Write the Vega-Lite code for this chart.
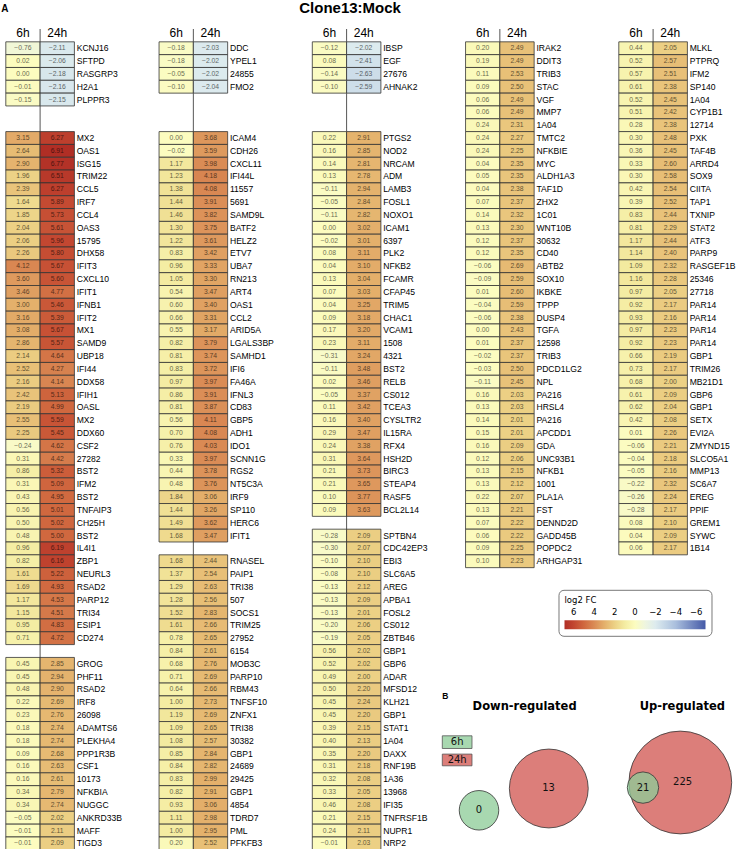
{
  "$schema": "https://vega.github.io/schema/vega-lite/v6.json",
  "padding": {"left": 0.8, "top": 0, "right": 0, "bottom": 0},
  "background": "white",
  "config": {"view": {"stroke": null}},
  "datasets": {
    "genes": [
      {"c":1,"r":0,"g":"KCNJ16","6h":-0.76,"24h":-2.11},
      {"c":1,"r":1,"g":"SFTPD","6h":0.02,"24h":-2.06},
      {"c":1,"r":2,"g":"RASGRP3","6h":-0.001,"24h":-2.18},
      {"c":1,"r":3,"g":"H2A1","6h":-0.01,"24h":-2.16},
      {"c":1,"r":4,"g":"PLPPR3","6h":-0.15,"24h":-2.15},
      {"c":1,"r":7,"g":"MX2","6h":3.15,"24h":6.27},
      {"c":1,"r":8,"g":"OAS1","6h":2.64,"24h":6.91},
      {"c":1,"r":9,"g":"ISG15","6h":2.90,"24h":6.77},
      {"c":1,"r":10,"g":"TRIM22","6h":1.96,"24h":6.51},
      {"c":1,"r":11,"g":"CCL5","6h":2.39,"24h":6.27},
      {"c":1,"r":12,"g":"IRF7","6h":1.64,"24h":5.89},
      {"c":1,"r":13,"g":"CCL4","6h":1.85,"24h":5.73},
      {"c":1,"r":14,"g":"OAS3","6h":2.04,"24h":5.61},
      {"c":1,"r":15,"g":"15795","6h":2.06,"24h":5.96},
      {"c":1,"r":16,"g":"DHX58","6h":2.26,"24h":5.80},
      {"c":1,"r":17,"g":"IFIT3","6h":4.12,"24h":5.67},
      {"c":1,"r":18,"g":"CXCL10","6h":3.60,"24h":5.60},
      {"c":1,"r":19,"g":"IFIT1","6h":3.46,"24h":4.77},
      {"c":1,"r":20,"g":"IFNB1","6h":3.00,"24h":5.46},
      {"c":1,"r":21,"g":"IFIT2","6h":3.16,"24h":5.39},
      {"c":1,"r":22,"g":"MX1","6h":3.08,"24h":5.67},
      {"c":1,"r":23,"g":"SAMD9","6h":2.86,"24h":5.57},
      {"c":1,"r":24,"g":"UBP18","6h":2.14,"24h":4.64},
      {"c":1,"r":25,"g":"IFI44","6h":2.52,"24h":4.27},
      {"c":1,"r":26,"g":"DDX58","6h":2.16,"24h":4.14},
      {"c":1,"r":27,"g":"IFIH1","6h":2.42,"24h":5.13},
      {"c":1,"r":28,"g":"OASL","6h":2.19,"24h":4.99},
      {"c":1,"r":29,"g":"MX2","6h":2.55,"24h":5.59},
      {"c":1,"r":30,"g":"DDX60","6h":2.25,"24h":5.45},
      {"c":1,"r":31,"g":"CSF2","6h":-0.24,"24h":4.62},
      {"c":1,"r":32,"g":"27282","6h":0.31,"24h":4.42},
      {"c":1,"r":33,"g":"BST2","6h":0.86,"24h":5.32},
      {"c":1,"r":34,"g":"IFM2","6h":0.31,"24h":5.09},
      {"c":1,"r":35,"g":"BST2","6h":0.43,"24h":4.95},
      {"c":1,"r":36,"g":"TNFAIP3","6h":0.56,"24h":5.01},
      {"c":1,"r":37,"g":"CH25H","6h":0.50,"24h":5.02},
      {"c":1,"r":38,"g":"BST2","6h":0.48,"24h":5.00},
      {"c":1,"r":39,"g":"IL4I1","6h":0.96,"24h":6.19},
      {"c":1,"r":40,"g":"ZBP1","6h":0.82,"24h":6.16},
      {"c":1,"r":41,"g":"NEURL3","6h":1.61,"24h":5.22},
      {"c":1,"r":42,"g":"RSAD2","6h":1.69,"24h":4.93},
      {"c":1,"r":43,"g":"PARP12","6h":1.17,"24h":4.53},
      {"c":1,"r":44,"g":"TRI34","6h":1.15,"24h":4.51},
      {"c":1,"r":45,"g":"ESIP1","6h":0.95,"24h":4.83},
      {"c":1,"r":46,"g":"CD274","6h":0.71,"24h":4.72},
      {"c":1,"r":48,"g":"GROG","6h":0.45,"24h":2.85},
      {"c":1,"r":49,"g":"PHF11","6h":0.45,"24h":2.94},
      {"c":1,"r":50,"g":"RSAD2","6h":0.48,"24h":2.90},
      {"c":1,"r":51,"g":"IRF8","6h":0.22,"24h":2.69},
      {"c":1,"r":52,"g":"26098","6h":0.23,"24h":2.76},
      {"c":1,"r":53,"g":"ADAMTS6","6h":0.18,"24h":2.74},
      {"c":1,"r":54,"g":"PLEKHA4","6h":0.18,"24h":2.74},
      {"c":1,"r":55,"g":"PPP1R3B","6h":0.09,"24h":2.68},
      {"c":1,"r":56,"g":"CSF1","6h":0.16,"24h":2.63},
      {"c":1,"r":57,"g":"10173","6h":0.16,"24h":2.61},
      {"c":1,"r":58,"g":"NFKBIA","6h":0.34,"24h":2.79},
      {"c":1,"r":59,"g":"NUGGC","6h":0.34,"24h":2.74},
      {"c":1,"r":60,"g":"ANKRD33B","6h":-0.05,"24h":2.02},
      {"c":1,"r":61,"g":"MAFF","6h":-0.01,"24h":2.11},
      {"c":1,"r":62,"g":"TIGD3","6h":-0.01,"24h":2.09},
      {"c":2,"r":0,"g":"DDC","6h":-0.18,"24h":-2.03},
      {"c":2,"r":1,"g":"YPEL1","6h":-0.18,"24h":-2.02},
      {"c":2,"r":2,"g":"24855","6h":-0.05,"24h":-2.02},
      {"c":2,"r":3,"g":"FMO2","6h":-0.10,"24h":-2.04},
      {"c":2,"r":7,"g":"ICAM4","6h":0.00,"24h":3.68},
      {"c":2,"r":8,"g":"CDH26","6h":-0.02,"24h":3.59},
      {"c":2,"r":9,"g":"CXCL11","6h":1.17,"24h":3.98},
      {"c":2,"r":10,"g":"IFI44L","6h":1.23,"24h":4.18},
      {"c":2,"r":11,"g":"11557","6h":1.38,"24h":4.08},
      {"c":2,"r":12,"g":"5691","6h":1.44,"24h":3.91},
      {"c":2,"r":13,"g":"SAMD9L","6h":1.46,"24h":3.82},
      {"c":2,"r":14,"g":"BATF2","6h":1.30,"24h":3.75},
      {"c":2,"r":15,"g":"HELZ2","6h":1.22,"24h":3.61},
      {"c":2,"r":16,"g":"ETV7","6h":0.83,"24h":3.42},
      {"c":2,"r":17,"g":"UBA7","6h":0.96,"24h":3.33},
      {"c":2,"r":18,"g":"RN213","6h":1.05,"24h":3.30},
      {"c":2,"r":19,"g":"ART4","6h":0.54,"24h":3.47},
      {"c":2,"r":20,"g":"OAS1","6h":0.60,"24h":3.40},
      {"c":2,"r":21,"g":"CCL2","6h":0.66,"24h":3.31},
      {"c":2,"r":22,"g":"ARID5A","6h":0.55,"24h":3.17},
      {"c":2,"r":23,"g":"LGALS3BP","6h":0.82,"24h":3.79},
      {"c":2,"r":24,"g":"SAMHD1","6h":0.81,"24h":3.74},
      {"c":2,"r":25,"g":"IFI6","6h":0.83,"24h":3.72},
      {"c":2,"r":26,"g":"FA46A","6h":0.97,"24h":3.97},
      {"c":2,"r":27,"g":"IFNL3","6h":0.86,"24h":3.91},
      {"c":2,"r":28,"g":"CD83","6h":0.81,"24h":3.87},
      {"c":2,"r":29,"g":"GBP5","6h":0.56,"24h":4.11},
      {"c":2,"r":30,"g":"ADH1","6h":0.70,"24h":4.08},
      {"c":2,"r":31,"g":"IDO1","6h":0.76,"24h":4.03},
      {"c":2,"r":32,"g":"SCNN1G","6h":0.33,"24h":3.97},
      {"c":2,"r":33,"g":"RGS2","6h":0.44,"24h":3.78},
      {"c":2,"r":34,"g":"NT5C3A","6h":0.48,"24h":3.76},
      {"c":2,"r":35,"g":"IRF9","6h":1.84,"24h":3.06},
      {"c":2,"r":36,"g":"SP110","6h":1.44,"24h":3.26},
      {"c":2,"r":37,"g":"HERC6","6h":1.49,"24h":3.62},
      {"c":2,"r":38,"g":"IFIT1","6h":1.68,"24h":3.47},
      {"c":2,"r":40,"g":"RNASEL","6h":1.68,"24h":2.44},
      {"c":2,"r":41,"g":"PAIP1","6h":1.37,"24h":2.54},
      {"c":2,"r":42,"g":"TRI38","6h":1.29,"24h":2.63},
      {"c":2,"r":43,"g":"507","6h":1.28,"24h":2.56},
      {"c":2,"r":44,"g":"SOCS1","6h":1.52,"24h":2.83},
      {"c":2,"r":45,"g":"TRIM25","6h":1.61,"24h":2.66},
      {"c":2,"r":46,"g":"27952","6h":0.78,"24h":2.65},
      {"c":2,"r":47,"g":"6154","6h":0.84,"24h":2.61},
      {"c":2,"r":48,"g":"MOB3C","6h":0.68,"24h":2.76},
      {"c":2,"r":49,"g":"PARP10","6h":0.71,"24h":2.69},
      {"c":2,"r":50,"g":"RBM43","6h":0.64,"24h":2.66},
      {"c":2,"r":51,"g":"TNFSF10","6h":1.00,"24h":2.73},
      {"c":2,"r":52,"g":"ZNFX1","6h":1.19,"24h":2.69},
      {"c":2,"r":53,"g":"TRI38","6h":1.09,"24h":2.65},
      {"c":2,"r":54,"g":"30382","6h":1.08,"24h":2.57},
      {"c":2,"r":55,"g":"GBP1","6h":0.85,"24h":2.84},
      {"c":2,"r":56,"g":"24689","6h":0.84,"24h":2.82},
      {"c":2,"r":57,"g":"29425","6h":0.83,"24h":2.99},
      {"c":2,"r":58,"g":"GBP1","6h":0.82,"24h":2.91},
      {"c":2,"r":59,"g":"4854","6h":0.93,"24h":3.06},
      {"c":2,"r":60,"g":"TDRD7","6h":1.11,"24h":2.98},
      {"c":2,"r":61,"g":"PML","6h":1.00,"24h":2.95},
      {"c":2,"r":62,"g":"PFKFB3","6h":0.20,"24h":2.52},
      {"c":3,"r":0,"g":"IBSP","6h":-0.12,"24h":-2.02},
      {"c":3,"r":1,"g":"EGF","6h":0.08,"24h":-2.41},
      {"c":3,"r":2,"g":"27676","6h":-0.14,"24h":-2.63},
      {"c":3,"r":3,"g":"AHNAK2","6h":-0.10,"24h":-2.59},
      {"c":3,"r":7,"g":"PTGS2","6h":0.22,"24h":2.91},
      {"c":3,"r":8,"g":"NOD2","6h":0.16,"24h":2.85},
      {"c":3,"r":9,"g":"NRCAM","6h":0.14,"24h":2.81},
      {"c":3,"r":10,"g":"ADM","6h":0.13,"24h":2.78},
      {"c":3,"r":11,"g":"LAMB3","6h":-0.11,"24h":2.94},
      {"c":3,"r":12,"g":"FOSL1","6h":-0.05,"24h":2.84},
      {"c":3,"r":13,"g":"NOXO1","6h":-0.11,"24h":2.82},
      {"c":3,"r":14,"g":"ICAM1","6h":-0.001,"24h":3.02},
      {"c":3,"r":15,"g":"6397","6h":-0.02,"24h":3.01},
      {"c":3,"r":16,"g":"PLK2","6h":0.08,"24h":3.11},
      {"c":3,"r":17,"g":"NFKB2","6h":0.04,"24h":3.10},
      {"c":3,"r":18,"g":"FCAMR","6h":0.13,"24h":3.04},
      {"c":3,"r":19,"g":"CFAP45","6h":0.07,"24h":3.03},
      {"c":3,"r":20,"g":"TRIM5","6h":0.04,"24h":3.25},
      {"c":3,"r":21,"g":"CHAC1","6h":0.09,"24h":3.18},
      {"c":3,"r":22,"g":"VCAM1","6h":0.17,"24h":3.20},
      {"c":3,"r":23,"g":"1508","6h":0.23,"24h":3.11},
      {"c":3,"r":24,"g":"4321","6h":-0.31,"24h":3.24},
      {"c":3,"r":25,"g":"BST2","6h":-0.11,"24h":3.48},
      {"c":3,"r":26,"g":"RELB","6h":0.02,"24h":3.46},
      {"c":3,"r":27,"g":"CS012","6h":-0.05,"24h":3.37},
      {"c":3,"r":28,"g":"TCEA3","6h":0.11,"24h":3.42},
      {"c":3,"r":29,"g":"CYSLTR2","6h":0.16,"24h":3.40},
      {"c":3,"r":30,"g":"IL15RA","6h":0.29,"24h":3.47},
      {"c":3,"r":31,"g":"RFX4","6h":0.24,"24h":3.38},
      {"c":3,"r":32,"g":"HSH2D","6h":0.31,"24h":3.64},
      {"c":3,"r":33,"g":"BIRC3","6h":0.21,"24h":3.73},
      {"c":3,"r":34,"g":"STEAP4","6h":0.21,"24h":3.65},
      {"c":3,"r":35,"g":"RASF5","6h":0.10,"24h":3.77},
      {"c":3,"r":36,"g":"BCL2L14","6h":0.09,"24h":3.63},
      {"c":3,"r":38,"g":"SPTBN4","6h":-0.28,"24h":2.09},
      {"c":3,"r":39,"g":"CDC42EP3","6h":-0.30,"24h":2.07},
      {"c":3,"r":40,"g":"EBI3","6h":-0.10,"24h":2.10},
      {"c":3,"r":41,"g":"SLC6A5","6h":-0.08,"24h":2.10},
      {"c":3,"r":42,"g":"AREG","6h":-0.13,"24h":2.12},
      {"c":3,"r":43,"g":"APBA1","6h":-0.13,"24h":2.09},
      {"c":3,"r":44,"g":"FOSL2","6h":-0.13,"24h":2.01},
      {"c":3,"r":45,"g":"CS012","6h":-0.20,"24h":2.06},
      {"c":3,"r":46,"g":"ZBTB46","6h":-0.19,"24h":2.05},
      {"c":3,"r":47,"g":"GBP1","6h":0.56,"24h":2.02},
      {"c":3,"r":48,"g":"GBP6","6h":0.52,"24h":2.02},
      {"c":3,"r":49,"g":"ADAR","6h":0.49,"24h":2.00},
      {"c":3,"r":50,"g":"MFSD12","6h":0.50,"24h":2.20},
      {"c":3,"r":51,"g":"KLH21","6h":0.45,"24h":2.24},
      {"c":3,"r":52,"g":"GBP1","6h":0.45,"24h":2.20},
      {"c":3,"r":53,"g":"STAT1","6h":0.39,"24h":2.15},
      {"c":3,"r":54,"g":"1A04","6h":0.40,"24h":2.13},
      {"c":3,"r":55,"g":"DAXX","6h":0.35,"24h":2.20},
      {"c":3,"r":56,"g":"RNF19B","6h":0.31,"24h":2.18},
      {"c":3,"r":57,"g":"1A36","6h":0.32,"24h":2.08},
      {"c":3,"r":58,"g":"13968","6h":0.33,"24h":2.05},
      {"c":3,"r":59,"g":"IFI35","6h":0.46,"24h":2.08},
      {"c":3,"r":60,"g":"TNFRSF1B","6h":0.21,"24h":2.15},
      {"c":3,"r":61,"g":"NUPR1","6h":0.24,"24h":2.11},
      {"c":3,"r":62,"g":"NRP2","6h":-0.01,"24h":2.03},
      {"c":4,"r":0,"g":"IRAK2","6h":0.20,"24h":2.49},
      {"c":4,"r":1,"g":"DDIT3","6h":0.19,"24h":2.49},
      {"c":4,"r":2,"g":"TRIB3","6h":0.11,"24h":2.53},
      {"c":4,"r":3,"g":"STAC","6h":0.09,"24h":2.50},
      {"c":4,"r":4,"g":"VGF","6h":0.06,"24h":2.49},
      {"c":4,"r":5,"g":"MMP7","6h":0.06,"24h":2.49},
      {"c":4,"r":6,"g":"1A04","6h":0.24,"24h":2.31},
      {"c":4,"r":7,"g":"TMTC2","6h":0.24,"24h":2.27},
      {"c":4,"r":8,"g":"NFKBIE","6h":0.24,"24h":2.25},
      {"c":4,"r":9,"g":"MYC","6h":0.04,"24h":2.35},
      {"c":4,"r":10,"g":"ALDH1A3","6h":0.05,"24h":2.35},
      {"c":4,"r":11,"g":"TAF1D","6h":0.04,"24h":2.38},
      {"c":4,"r":12,"g":"ZHX2","6h":0.07,"24h":2.37},
      {"c":4,"r":13,"g":"1C01","6h":0.14,"24h":2.32},
      {"c":4,"r":14,"g":"WNT10B","6h":0.13,"24h":2.30},
      {"c":4,"r":15,"g":"30632","6h":0.12,"24h":2.37},
      {"c":4,"r":16,"g":"CD40","6h":0.12,"24h":2.35},
      {"c":4,"r":17,"g":"ABTB2","6h":-0.06,"24h":2.69},
      {"c":4,"r":18,"g":"SOX10","6h":-0.09,"24h":2.59},
      {"c":4,"r":19,"g":"IKBKE","6h":0.01,"24h":2.60},
      {"c":4,"r":20,"g":"TPPP","6h":-0.04,"24h":2.59},
      {"c":4,"r":21,"g":"DUSP4","6h":-0.06,"24h":2.38},
      {"c":4,"r":22,"g":"TGFA","6h":-0.001,"24h":2.43},
      {"c":4,"r":23,"g":"12598","6h":0.01,"24h":2.37},
      {"c":4,"r":24,"g":"TRIB3","6h":-0.02,"24h":2.37},
      {"c":4,"r":25,"g":"PDCD1LG2","6h":-0.03,"24h":2.50},
      {"c":4,"r":26,"g":"NPL","6h":-0.11,"24h":2.45},
      {"c":4,"r":27,"g":"PA216","6h":0.16,"24h":2.03},
      {"c":4,"r":28,"g":"HRSL4","6h":0.13,"24h":2.03},
      {"c":4,"r":29,"g":"PA216","6h":0.14,"24h":2.01},
      {"c":4,"r":30,"g":"APCDD1","6h":0.15,"24h":2.01},
      {"c":4,"r":31,"g":"GDA","6h":0.16,"24h":2.09},
      {"c":4,"r":32,"g":"UNC93B1","6h":0.12,"24h":2.06},
      {"c":4,"r":33,"g":"NFKB1","6h":0.13,"24h":2.15},
      {"c":4,"r":34,"g":"1001","6h":0.13,"24h":2.12},
      {"c":4,"r":35,"g":"PLA1A","6h":0.22,"24h":2.07},
      {"c":4,"r":36,"g":"FST","6h":0.13,"24h":2.21},
      {"c":4,"r":37,"g":"DENND2D","6h":0.07,"24h":2.22},
      {"c":4,"r":38,"g":"GADD45B","6h":0.06,"24h":2.22},
      {"c":4,"r":39,"g":"POPDC2","6h":0.09,"24h":2.25},
      {"c":4,"r":40,"g":"ARHGAP31","6h":0.10,"24h":2.23},
      {"c":5,"r":0,"g":"MLKL","6h":0.44,"24h":2.05},
      {"c":5,"r":1,"g":"PTPRQ","6h":0.52,"24h":2.57},
      {"c":5,"r":2,"g":"IFM2","6h":0.57,"24h":2.51},
      {"c":5,"r":3,"g":"SP140","6h":0.61,"24h":2.38},
      {"c":5,"r":4,"g":"1A04","6h":0.52,"24h":2.45},
      {"c":5,"r":5,"g":"CYP1B1","6h":0.51,"24h":2.42},
      {"c":5,"r":6,"g":"12714","6h":0.28,"24h":2.38},
      {"c":5,"r":7,"g":"PXK","6h":0.30,"24h":2.48},
      {"c":5,"r":8,"g":"TAF4B","6h":0.36,"24h":2.45},
      {"c":5,"r":9,"g":"ARRD4","6h":0.33,"24h":2.60},
      {"c":5,"r":10,"g":"SOX9","6h":0.30,"24h":2.58},
      {"c":5,"r":11,"g":"CIITA","6h":0.42,"24h":2.54},
      {"c":5,"r":12,"g":"TAP1","6h":0.39,"24h":2.52},
      {"c":5,"r":13,"g":"TXNIP","6h":0.83,"24h":2.44},
      {"c":5,"r":14,"g":"STAT2","6h":0.81,"24h":2.29},
      {"c":5,"r":15,"g":"ATF3","6h":1.17,"24h":2.44},
      {"c":5,"r":16,"g":"PARP9","6h":1.14,"24h":2.40},
      {"c":5,"r":17,"g":"RASGEF1B","6h":1.09,"24h":2.32},
      {"c":5,"r":18,"g":"25346","6h":1.16,"24h":2.28},
      {"c":5,"r":19,"g":"27718","6h":0.97,"24h":2.05},
      {"c":5,"r":20,"g":"PAR14","6h":0.92,"24h":2.17},
      {"c":5,"r":21,"g":"PAR14","6h":0.93,"24h":2.16},
      {"c":5,"r":22,"g":"PAR14","6h":0.97,"24h":2.23},
      {"c":5,"r":23,"g":"PAR14","6h":0.92,"24h":2.23},
      {"c":5,"r":24,"g":"GBP1","6h":0.66,"24h":2.19},
      {"c":5,"r":25,"g":"TRIM26","6h":0.73,"24h":2.17},
      {"c":5,"r":26,"g":"MB21D1","6h":0.68,"24h":2.00},
      {"c":5,"r":27,"g":"GBP6","6h":0.61,"24h":2.09},
      {"c":5,"r":28,"g":"GBP1","6h":0.62,"24h":2.04},
      {"c":5,"r":29,"g":"SETX","6h":0.42,"24h":2.08},
      {"c":5,"r":30,"g":"EVI2A","6h":0.01,"24h":2.26},
      {"c":5,"r":31,"g":"ZMYND15","6h":-0.06,"24h":2.21},
      {"c":5,"r":32,"g":"SLCO5A1","6h":-0.04,"24h":2.18},
      {"c":5,"r":33,"g":"MMP13","6h":-0.05,"24h":2.16},
      {"c":5,"r":34,"g":"SC6A7","6h":-0.22,"24h":2.32},
      {"c":5,"r":35,"g":"EREG","6h":-0.26,"24h":2.24},
      {"c":5,"r":36,"g":"PPIF","6h":-0.28,"24h":2.17},
      {"c":5,"r":37,"g":"GREM1","6h":0.08,"24h":2.10},
      {"c":5,"r":38,"g":"SYWC","6h":0.04,"24h":2.09},
      {"c":5,"r":39,"g":"1B14","6h":0.06,"24h":2.17}
    ]
  },
  "bounds": "flush",
  "spacing": 84.25,
  "hconcat": [
    {
      "title": {"text": "A", "anchor": "start", "frame": "group", "font": "Liberation Sans", "fontSize": 10, "fontWeight": "bold", "dx": -4.5, "offset": 13, "color": "#000"},
      "width": 68.6, "height": 820.8,
      "data": {"name": "genes"},
      "layer": [
        {"data": {"values": [{}]}, "mark": {"type": "rule", "color": "#555", "strokeWidth": 1}, "encoding": {"x": {"datum": "24h", "type": "nominal", "bandPosition": 0, "scale": {"domain": ["6h","24h"], "paddingInner": 0, "paddingOuter": 0}, "axis": null}}},
        {"data": {"values": [{"t": "6h"}, {"t": "24h"}]}, "mark": {"type": "text", "font": "Liberation Sans", "fontSize": 12, "baseline": "middle", "dy": -2.5, "color": "#000"},
         "encoding": {"x": {"field": "t", "type": "nominal", "scale": {"domain": ["6h","24h"], "paddingInner": 0, "paddingOuter": 0}, "axis": null},
                      "y": {"datum": -1, "type": "ordinal", "scale": {"domain": [-1,0,1,2,3,4,5,6,7,8,9,10,11,12,13,14,15,16,17,18,19,20,21,22,23,24,25,26,27,28,29,30,31,32,33,34,35,36,37,38,39,40,41,42,43,44,45,46,47,48,49,50,51,52,53,54,55,56,57,58,59,60,61,62], "paddingInner": 0, "paddingOuter": 0}, "axis": null},
                      "text": {"field": "t"}}},
        {"transform": [{"filter": "datum.c == 1"}, {"fold": ["6h", "24h"], "as": ["t", "v"]}],
         "encoding": {"x": {"field": "t", "type": "nominal", "scale": {"domain": ["6h","24h"], "paddingInner": 0, "paddingOuter": 0}, "axis": null},
                      "y": {"field": "r", "type": "ordinal", "scale": {"domain": [-1,0,1,2,3,4,5,6,7,8,9,10,11,12,13,14,15,16,17,18,19,20,21,22,23,24,25,26,27,28,29,30,31,32,33,34,35,36,37,38,39,40,41,42,43,44,45,46,47,48,49,50,51,52,53,54,55,56,57,58,59,60,61,62], "paddingInner": 0, "paddingOuter": 0}, "axis": null}},
         "layer": [
           {"mark": {"type": "rect", "stroke": "#333", "strokeWidth": 0.8},
            "encoding": {"color": {"field": "v", "type": "quantitative",
              "scale": {"domain": [6.91,6,5,4,3,2,1,0,-1,-2,-4,-6.91], "range": ["#b02e25","#c24630","#d0683f","#da8b55","#e4b06b","#ecd185","#f4eca2","#fcfcbf","#eef5df","#ddebee","#a9bedd","#4459a7"], "interpolate": "rgb", "zero": false, "nice": false},
              "legend": {"orient": "none", "legendX": 552.7, "legendY": 560.8, "direction": "horizontal", "title": "log2 FC", "values": [6,4,2,0,-2,-4,-6], "gradientLength": 141, "gradientThickness": 9, "labelOffset": -21.3, "padding": 6, "strokeColor": "#777", "fillColor": "#fff", "cornerRadius": 5, "titleFont": "DejaVu Sans", "titleFontSize": 8.5, "titleFontWeight": "normal", "titleColor": "#000", "labelFont": "DejaVu Sans", "labelFontSize": 8.5, "labelColor": "#000", "titlePadding": 16, "gradientStrokeWidth": 0}}}},
           {"mark": {"type": "text", "font": "Liberation Sans", "fontSize": 6.8, "color": "#000", "opacity": 0.6, "baseline": "middle"},
            "encoding": {"text": {"field": "v", "type": "quantitative", "format": ".2f"}}}
         ]},
        {"transform": [{"filter": "datum.c == 1"}],
         "mark": {"type": "text", "font": "Liberation Sans", "fontSize": 8.6, "align": "left", "baseline": "middle", "dx": 2.3, "color": "#000"},
         "encoding": {"x": {"datum": "24h", "type": "nominal", "bandPosition": 1, "scale": {"domain": ["6h","24h"], "paddingInner": 0, "paddingOuter": 0}, "axis": null},
                      "y": {"field": "r", "type": "ordinal", "scale": {"domain": [-1,0,1,2,3,4,5,6,7,8,9,10,11,12,13,14,15,16,17,18,19,20,21,22,23,24,25,26,27,28,29,30,31,32,33,34,35,36,37,38,39,40,41,42,43,44,45,46,47,48,49,50,51,52,53,54,55,56,57,58,59,60,61,62], "paddingInner": 0, "paddingOuter": 0}, "axis": null},
                      "text": {"field": "g"}}}
      ]
    },
    {
      "width": 68.6, "height": 820.8,
      "data": {"name": "genes"},
      "layer": [
        {"data": {"values": [{}]}, "mark": {"type": "rule", "color": "#555", "strokeWidth": 1}, "encoding": {"x": {"datum": "24h", "type": "nominal", "bandPosition": 0, "scale": {"domain": ["6h","24h"], "paddingInner": 0, "paddingOuter": 0}, "axis": null}}},
        {"data": {"values": [{"t": "6h"}, {"t": "24h"}]}, "mark": {"type": "text", "font": "Liberation Sans", "fontSize": 12, "baseline": "middle", "dy": -2.5, "color": "#000"},
         "encoding": {"x": {"field": "t", "type": "nominal", "scale": {"domain": ["6h","24h"], "paddingInner": 0, "paddingOuter": 0}, "axis": null},
                      "y": {"datum": -1, "type": "ordinal", "scale": {"domain": [-1,0,1,2,3,4,5,6,7,8,9,10,11,12,13,14,15,16,17,18,19,20,21,22,23,24,25,26,27,28,29,30,31,32,33,34,35,36,37,38,39,40,41,42,43,44,45,46,47,48,49,50,51,52,53,54,55,56,57,58,59,60,61,62], "paddingInner": 0, "paddingOuter": 0}, "axis": null},
                      "text": {"field": "t"}}},
        {"transform": [{"filter": "datum.c == 2"}, {"fold": ["6h", "24h"], "as": ["t", "v"]}],
         "encoding": {"x": {"field": "t", "type": "nominal", "scale": {"domain": ["6h","24h"], "paddingInner": 0, "paddingOuter": 0}, "axis": null},
                      "y": {"field": "r", "type": "ordinal", "scale": {"domain": [-1,0,1,2,3,4,5,6,7,8,9,10,11,12,13,14,15,16,17,18,19,20,21,22,23,24,25,26,27,28,29,30,31,32,33,34,35,36,37,38,39,40,41,42,43,44,45,46,47,48,49,50,51,52,53,54,55,56,57,58,59,60,61,62], "paddingInner": 0, "paddingOuter": 0}, "axis": null}},
         "layer": [
           {"mark": {"type": "rect", "stroke": "#333", "strokeWidth": 0.8},
            "encoding": {"color": {"field": "v", "type": "quantitative",
              "scale": {"domain": [6.91,6,5,4,3,2,1,0,-1,-2,-4,-6.91], "range": ["#b02e25","#c24630","#d0683f","#da8b55","#e4b06b","#ecd185","#f4eca2","#fcfcbf","#eef5df","#ddebee","#a9bedd","#4459a7"], "interpolate": "rgb", "zero": false, "nice": false},
              "legend": {"orient": "none", "legendX": 552.7, "legendY": 560.8, "direction": "horizontal", "title": "log2 FC", "values": [6,4,2,0,-2,-4,-6], "gradientLength": 141, "gradientThickness": 9, "labelOffset": -21.3, "padding": 6, "strokeColor": "#777", "fillColor": "#fff", "cornerRadius": 5, "titleFont": "DejaVu Sans", "titleFontSize": 8.5, "titleFontWeight": "normal", "titleColor": "#000", "labelFont": "DejaVu Sans", "labelFontSize": 8.5, "labelColor": "#000", "titlePadding": 16, "gradientStrokeWidth": 0}}}},
           {"mark": {"type": "text", "font": "Liberation Sans", "fontSize": 6.8, "color": "#000", "opacity": 0.6, "baseline": "middle"},
            "encoding": {"text": {"field": "v", "type": "quantitative", "format": ".2f"}}}
         ]},
        {"transform": [{"filter": "datum.c == 2"}],
         "mark": {"type": "text", "font": "Liberation Sans", "fontSize": 8.6, "align": "left", "baseline": "middle", "dx": 2.3, "color": "#000"},
         "encoding": {"x": {"datum": "24h", "type": "nominal", "bandPosition": 1, "scale": {"domain": ["6h","24h"], "paddingInner": 0, "paddingOuter": 0}, "axis": null},
                      "y": {"field": "r", "type": "ordinal", "scale": {"domain": [-1,0,1,2,3,4,5,6,7,8,9,10,11,12,13,14,15,16,17,18,19,20,21,22,23,24,25,26,27,28,29,30,31,32,33,34,35,36,37,38,39,40,41,42,43,44,45,46,47,48,49,50,51,52,53,54,55,56,57,58,59,60,61,62], "paddingInner": 0, "paddingOuter": 0}, "axis": null},
                      "text": {"field": "g"}}}
      ]
    },
    {
      "title": {"text": "Clone13:Mock", "anchor": "start", "frame": "group", "font": "Liberation Sans", "fontSize": 15, "fontWeight": "bold", "dx": -13, "offset": 11, "color": "#000"},
      "width": 68.6, "height": 820.8,
      "data": {"name": "genes"},
      "resolve": {"scale": {"x": "independent", "y": "independent"}},
      "layer": [
        {
          "layer": [
            {"data": {"values": [{}]}, "mark": {"type": "rule", "color": "#555", "strokeWidth": 1}, "encoding": {"x": {"datum": "24h", "type": "nominal", "bandPosition": 0, "scale": {"domain": ["6h","24h"], "paddingInner": 0, "paddingOuter": 0}, "axis": null}}},
            {"data": {"values": [{"t": "6h"}, {"t": "24h"}]}, "mark": {"type": "text", "font": "Liberation Sans", "fontSize": 12, "baseline": "middle", "dy": -2.5, "color": "#000"},
             "encoding": {"x": {"field": "t", "type": "nominal", "scale": {"domain": ["6h","24h"], "paddingInner": 0, "paddingOuter": 0}, "axis": null},
                          "y": {"datum": -1, "type": "ordinal", "scale": {"domain": [-1,0,1,2,3,4,5,6,7,8,9,10,11,12,13,14,15,16,17,18,19,20,21,22,23,24,25,26,27,28,29,30,31,32,33,34,35,36,37,38,39,40,41,42,43,44,45,46,47,48,49,50,51,52,53,54,55,56,57,58,59,60,61,62], "paddingInner": 0, "paddingOuter": 0}, "axis": null},
                          "text": {"field": "t"}}},
            {"transform": [{"filter": "datum.c == 3"}, {"fold": ["6h", "24h"], "as": ["t", "v"]}],
             "encoding": {"x": {"field": "t", "type": "nominal", "scale": {"domain": ["6h","24h"], "paddingInner": 0, "paddingOuter": 0}, "axis": null},
                          "y": {"field": "r", "type": "ordinal", "scale": {"domain": [-1,0,1,2,3,4,5,6,7,8,9,10,11,12,13,14,15,16,17,18,19,20,21,22,23,24,25,26,27,28,29,30,31,32,33,34,35,36,37,38,39,40,41,42,43,44,45,46,47,48,49,50,51,52,53,54,55,56,57,58,59,60,61,62], "paddingInner": 0, "paddingOuter": 0}, "axis": null}},
             "layer": [
               {"mark": {"type": "rect", "stroke": "#333", "strokeWidth": 0.8},
                "encoding": {"color": {"field": "v", "type": "quantitative",
                  "scale": {"domain": [6.91,6,5,4,3,2,1,0,-1,-2,-4,-6.91], "range": ["#b02e25","#c24630","#d0683f","#da8b55","#e4b06b","#ecd185","#f4eca2","#fcfcbf","#eef5df","#ddebee","#a9bedd","#4459a7"], "interpolate": "rgb", "zero": false, "nice": false},
                  "legend": {"orient": "none", "legendX": 552.7, "legendY": 560.8, "direction": "horizontal", "title": "log2 FC", "values": [6,4,2,0,-2,-4,-6], "gradientLength": 141, "gradientThickness": 9, "labelOffset": -21.3, "padding": 6, "strokeColor": "#777", "fillColor": "#fff", "cornerRadius": 5, "titleFont": "DejaVu Sans", "titleFontSize": 8.5, "titleFontWeight": "normal", "titleColor": "#000", "labelFont": "DejaVu Sans", "labelFontSize": 8.5, "labelColor": "#000", "titlePadding": 16, "gradientStrokeWidth": 0}}}},
               {"mark": {"type": "text", "font": "Liberation Sans", "fontSize": 6.8, "color": "#000", "opacity": 0.6, "baseline": "middle"},
                "encoding": {"text": {"field": "v", "type": "quantitative", "format": ".2f"}}}
             ]},
            {"transform": [{"filter": "datum.c == 3"}],
             "mark": {"type": "text", "font": "Liberation Sans", "fontSize": 8.6, "align": "left", "baseline": "middle", "dx": 2.3, "color": "#000"},
             "encoding": {"x": {"datum": "24h", "type": "nominal", "bandPosition": 1, "scale": {"domain": ["6h","24h"], "paddingInner": 0, "paddingOuter": 0}, "axis": null},
                          "y": {"field": "r", "type": "ordinal", "scale": {"domain": [-1,0,1,2,3,4,5,6,7,8,9,10,11,12,13,14,15,16,17,18,19,20,21,22,23,24,25,26,27,28,29,30,31,32,33,34,35,36,37,38,39,40,41,42,43,44,45,46,47,48,49,50,51,52,53,54,55,56,57,58,59,60,61,62], "paddingInner": 0, "paddingOuter": 0}, "axis": null},
                          "text": {"field": "g"}}}
          ]
        },
        {
          "encoding": {
            "x": {"field": "x", "type": "quantitative", "scale": {"domain": [0, 6.86], "nice": false, "zero": false}, "axis": null},
            "y": {"field": "y", "type": "quantitative", "scale": {"domain": [0, 82.08], "nice": false, "zero": false}, "axis": null}
          },
          "layer": [
            {"data": {"values": [
                {"d": "down", "set": "24h", "x": 23.65, "y": 6.13, "rad": 4.45},
                {"d": "up", "set": "24h", "x": 36.8, "y": 6.73, "rad": 5.8},
                {"d": "down", "set": "6h", "x": 16.67, "y": 3.95, "rad": 2.23},
                {"d": "up", "set": "6h", "x": 33.07, "y": 6.22, "rad": 1.77}
              ]},
             "mark": {"type": "circle", "stroke": "#333", "strokeWidth": 0.8, "opacity": 1},
             "encoding": {
               "size": {"field": "rad", "type": "quantitative", "scale": {"type": "pow", "exponent": 2, "domain": [0, 10], "range": [0, 31415.9]}, "legend": null},
               "fill": {"field": "set", "type": "nominal", "scale": {"domain": ["6h", "24h"], "range": ["#8ecc98", "#dc7e7a"]}, "legend": null},
               "fillOpacity": {"field": "set", "type": "nominal", "scale": {"domain": ["6h", "24h"], "range": [0.77, 1]}, "legend": null}
             }},
            {"data": {"values": [
                {"set": "6h", "x": 13.0, "x2": 15.97, "y": 10.13, "y2": 11.4},
                {"set": "24h", "x": 13.0, "x2": 15.97, "y": 8.4, "y2": 9.57}
              ]},
             "mark": {"type": "rect", "stroke": "#555", "strokeWidth": 0.8},
             "encoding": {
               "x2": {"field": "x2"},
               "y2": {"field": "y2"},
               "fill": {"field": "set", "type": "nominal", "scale": {"domain": ["6h", "24h"], "range": ["#8ecc98", "#dc7e7a"]}, "legend": null},
               "fillOpacity": {"field": "set", "type": "nominal", "scale": {"domain": ["6h", "24h"], "range": [0.77, 1]}, "legend": null}
             }},
            {"data": {"values": [
                {"txt": "6h", "x": 14.485, "y": 10.77},
                {"txt": "24h", "x": 14.485, "y": 8.98},
                {"txt": "0", "x": 16.67, "y": 3.95},
                {"txt": "13", "x": 23.63, "y": 6.17},
                {"txt": "21", "x": 33.07, "y": 6.13},
                {"txt": "225", "x": 37.03, "y": 6.73}
              ]},
             "mark": {"type": "text", "font": "DejaVu Sans", "fontSize": 10, "baseline": "middle", "align": "center", "color": "#111"},
             "encoding": {"text": {"field": "txt"}}},
            {"data": {"values": [
                {"txt": "Down-regulated", "x": 21.23, "y": 14.23},
                {"txt": "Up-regulated", "x": 37.0, "y": 14.23}
              ]},
             "mark": {"type": "text", "font": "DejaVu Sans", "fontSize": 11.5, "fontWeight": "bold", "baseline": "middle", "align": "center", "color": "#000"},
             "encoding": {"text": {"field": "txt"}}},
            {"data": {"values": [{"txt": "B", "x": 13.0, "y": 15.4}]},
             "mark": {"type": "text", "font": "Liberation Sans", "fontSize": 8.5, "fontWeight": "bold", "baseline": "middle", "align": "left", "color": "#000"},
             "encoding": {"text": {"field": "txt"}}}
          ]
        }
      ]
    },
    {
      "width": 68.6, "height": 538.65,
      "data": {"name": "genes"},
      "layer": [
        {"data": {"values": [{}]}, "mark": {"type": "rule", "color": "#555", "strokeWidth": 1}, "encoding": {"x": {"datum": "24h", "type": "nominal", "bandPosition": 0, "scale": {"domain": ["6h","24h"], "paddingInner": 0, "paddingOuter": 0}, "axis": null}}},
        {"data": {"values": [{"t": "6h"}, {"t": "24h"}]}, "mark": {"type": "text", "font": "Liberation Sans", "fontSize": 12, "baseline": "middle", "dy": -2.5, "color": "#000"},
         "encoding": {"x": {"field": "t", "type": "nominal", "scale": {"domain": ["6h","24h"], "paddingInner": 0, "paddingOuter": 0}, "axis": null},
                      "y": {"datum": -1, "type": "ordinal", "scale": {"domain": [-1,0,1,2,3,4,5,6,7,8,9,10,11,12,13,14,15,16,17,18,19,20,21,22,23,24,25,26,27,28,29,30,31,32,33,34,35,36,37,38,39,40], "paddingInner": 0, "paddingOuter": 0}, "axis": null},
                      "text": {"field": "t"}}},
        {"transform": [{"filter": "datum.c == 4"}, {"fold": ["6h", "24h"], "as": ["t", "v"]}],
         "encoding": {"x": {"field": "t", "type": "nominal", "scale": {"domain": ["6h","24h"], "paddingInner": 0, "paddingOuter": 0}, "axis": null},
                      "y": {"field": "r", "type": "ordinal", "scale": {"domain": [-1,0,1,2,3,4,5,6,7,8,9,10,11,12,13,14,15,16,17,18,19,20,21,22,23,24,25,26,27,28,29,30,31,32,33,34,35,36,37,38,39,40], "paddingInner": 0, "paddingOuter": 0}, "axis": null}},
         "layer": [
           {"mark": {"type": "rect", "stroke": "#333", "strokeWidth": 0.8},
            "encoding": {"color": {"field": "v", "type": "quantitative",
              "scale": {"domain": [6.91,6,5,4,3,2,1,0,-1,-2,-4,-6.91], "range": ["#b02e25","#c24630","#d0683f","#da8b55","#e4b06b","#ecd185","#f4eca2","#fcfcbf","#eef5df","#ddebee","#a9bedd","#4459a7"], "interpolate": "rgb", "zero": false, "nice": false},
              "legend": {"orient": "none", "legendX": 552.7, "legendY": 560.8, "direction": "horizontal", "title": "log2 FC", "values": [6,4,2,0,-2,-4,-6], "gradientLength": 141, "gradientThickness": 9, "labelOffset": -21.3, "padding": 6, "strokeColor": "#777", "fillColor": "#fff", "cornerRadius": 5, "titleFont": "DejaVu Sans", "titleFontSize": 8.5, "titleFontWeight": "normal", "titleColor": "#000", "labelFont": "DejaVu Sans", "labelFontSize": 8.5, "labelColor": "#000", "titlePadding": 16, "gradientStrokeWidth": 0}}}},
           {"mark": {"type": "text", "font": "Liberation Sans", "fontSize": 6.8, "color": "#000", "opacity": 0.6, "baseline": "middle"},
            "encoding": {"text": {"field": "v", "type": "quantitative", "format": ".2f"}}}
         ]},
        {"transform": [{"filter": "datum.c == 4"}],
         "mark": {"type": "text", "font": "Liberation Sans", "fontSize": 8.6, "align": "left", "baseline": "middle", "dx": 2.3, "color": "#000"},
         "encoding": {"x": {"datum": "24h", "type": "nominal", "bandPosition": 1, "scale": {"domain": ["6h","24h"], "paddingInner": 0, "paddingOuter": 0}, "axis": null},
                      "y": {"field": "r", "type": "ordinal", "scale": {"domain": [-1,0,1,2,3,4,5,6,7,8,9,10,11,12,13,14,15,16,17,18,19,20,21,22,23,24,25,26,27,28,29,30,31,32,33,34,35,36,37,38,39,40], "paddingInner": 0, "paddingOuter": 0}, "axis": null},
                      "text": {"field": "g"}}}
      ]
    },
    {
      "width": 68.6, "height": 525.825,
      "data": {"name": "genes"},
      "layer": [
        {"data": {"values": [{}]}, "mark": {"type": "rule", "color": "#555", "strokeWidth": 1}, "encoding": {"x": {"datum": "24h", "type": "nominal", "bandPosition": 0, "scale": {"domain": ["6h","24h"], "paddingInner": 0, "paddingOuter": 0}, "axis": null}}},
        {"data": {"values": [{"t": "6h"}, {"t": "24h"}]}, "mark": {"type": "text", "font": "Liberation Sans", "fontSize": 12, "baseline": "middle", "dy": -2.5, "color": "#000"},
         "encoding": {"x": {"field": "t", "type": "nominal", "scale": {"domain": ["6h","24h"], "paddingInner": 0, "paddingOuter": 0}, "axis": null},
                      "y": {"datum": -1, "type": "ordinal", "scale": {"domain": [-1,0,1,2,3,4,5,6,7,8,9,10,11,12,13,14,15,16,17,18,19,20,21,22,23,24,25,26,27,28,29,30,31,32,33,34,35,36,37,38,39], "paddingInner": 0, "paddingOuter": 0}, "axis": null},
                      "text": {"field": "t"}}},
        {"transform": [{"filter": "datum.c == 5"}, {"fold": ["6h", "24h"], "as": ["t", "v"]}],
         "encoding": {"x": {"field": "t", "type": "nominal", "scale": {"domain": ["6h","24h"], "paddingInner": 0, "paddingOuter": 0}, "axis": null},
                      "y": {"field": "r", "type": "ordinal", "scale": {"domain": [-1,0,1,2,3,4,5,6,7,8,9,10,11,12,13,14,15,16,17,18,19,20,21,22,23,24,25,26,27,28,29,30,31,32,33,34,35,36,37,38,39], "paddingInner": 0, "paddingOuter": 0}, "axis": null}},
         "layer": [
           {"mark": {"type": "rect", "stroke": "#333", "strokeWidth": 0.8},
            "encoding": {"color": {"field": "v", "type": "quantitative",
              "scale": {"domain": [6.91,6,5,4,3,2,1,0,-1,-2,-4,-6.91], "range": ["#b02e25","#c24630","#d0683f","#da8b55","#e4b06b","#ecd185","#f4eca2","#fcfcbf","#eef5df","#ddebee","#a9bedd","#4459a7"], "interpolate": "rgb", "zero": false, "nice": false},
              "legend": {"orient": "none", "legendX": 552.7, "legendY": 560.8, "direction": "horizontal", "title": "log2 FC", "values": [6,4,2,0,-2,-4,-6], "gradientLength": 141, "gradientThickness": 9, "labelOffset": -21.3, "padding": 6, "strokeColor": "#777", "fillColor": "#fff", "cornerRadius": 5, "titleFont": "DejaVu Sans", "titleFontSize": 8.5, "titleFontWeight": "normal", "titleColor": "#000", "labelFont": "DejaVu Sans", "labelFontSize": 8.5, "labelColor": "#000", "titlePadding": 16, "gradientStrokeWidth": 0}}}},
           {"mark": {"type": "text", "font": "Liberation Sans", "fontSize": 6.8, "color": "#000", "opacity": 0.6, "baseline": "middle"},
            "encoding": {"text": {"field": "v", "type": "quantitative", "format": ".2f"}}}
         ]},
        {"transform": [{"filter": "datum.c == 5"}],
         "mark": {"type": "text", "font": "Liberation Sans", "fontSize": 8.6, "align": "left", "baseline": "middle", "dx": 2.3, "color": "#000"},
         "encoding": {"x": {"datum": "24h", "type": "nominal", "bandPosition": 1, "scale": {"domain": ["6h","24h"], "paddingInner": 0, "paddingOuter": 0}, "axis": null},
                      "y": {"field": "r", "type": "ordinal", "scale": {"domain": [-1,0,1,2,3,4,5,6,7,8,9,10,11,12,13,14,15,16,17,18,19,20,21,22,23,24,25,26,27,28,29,30,31,32,33,34,35,36,37,38,39], "paddingInner": 0, "paddingOuter": 0}, "axis": null},
                      "text": {"field": "g"}}}
      ]
    }
  ]
}
